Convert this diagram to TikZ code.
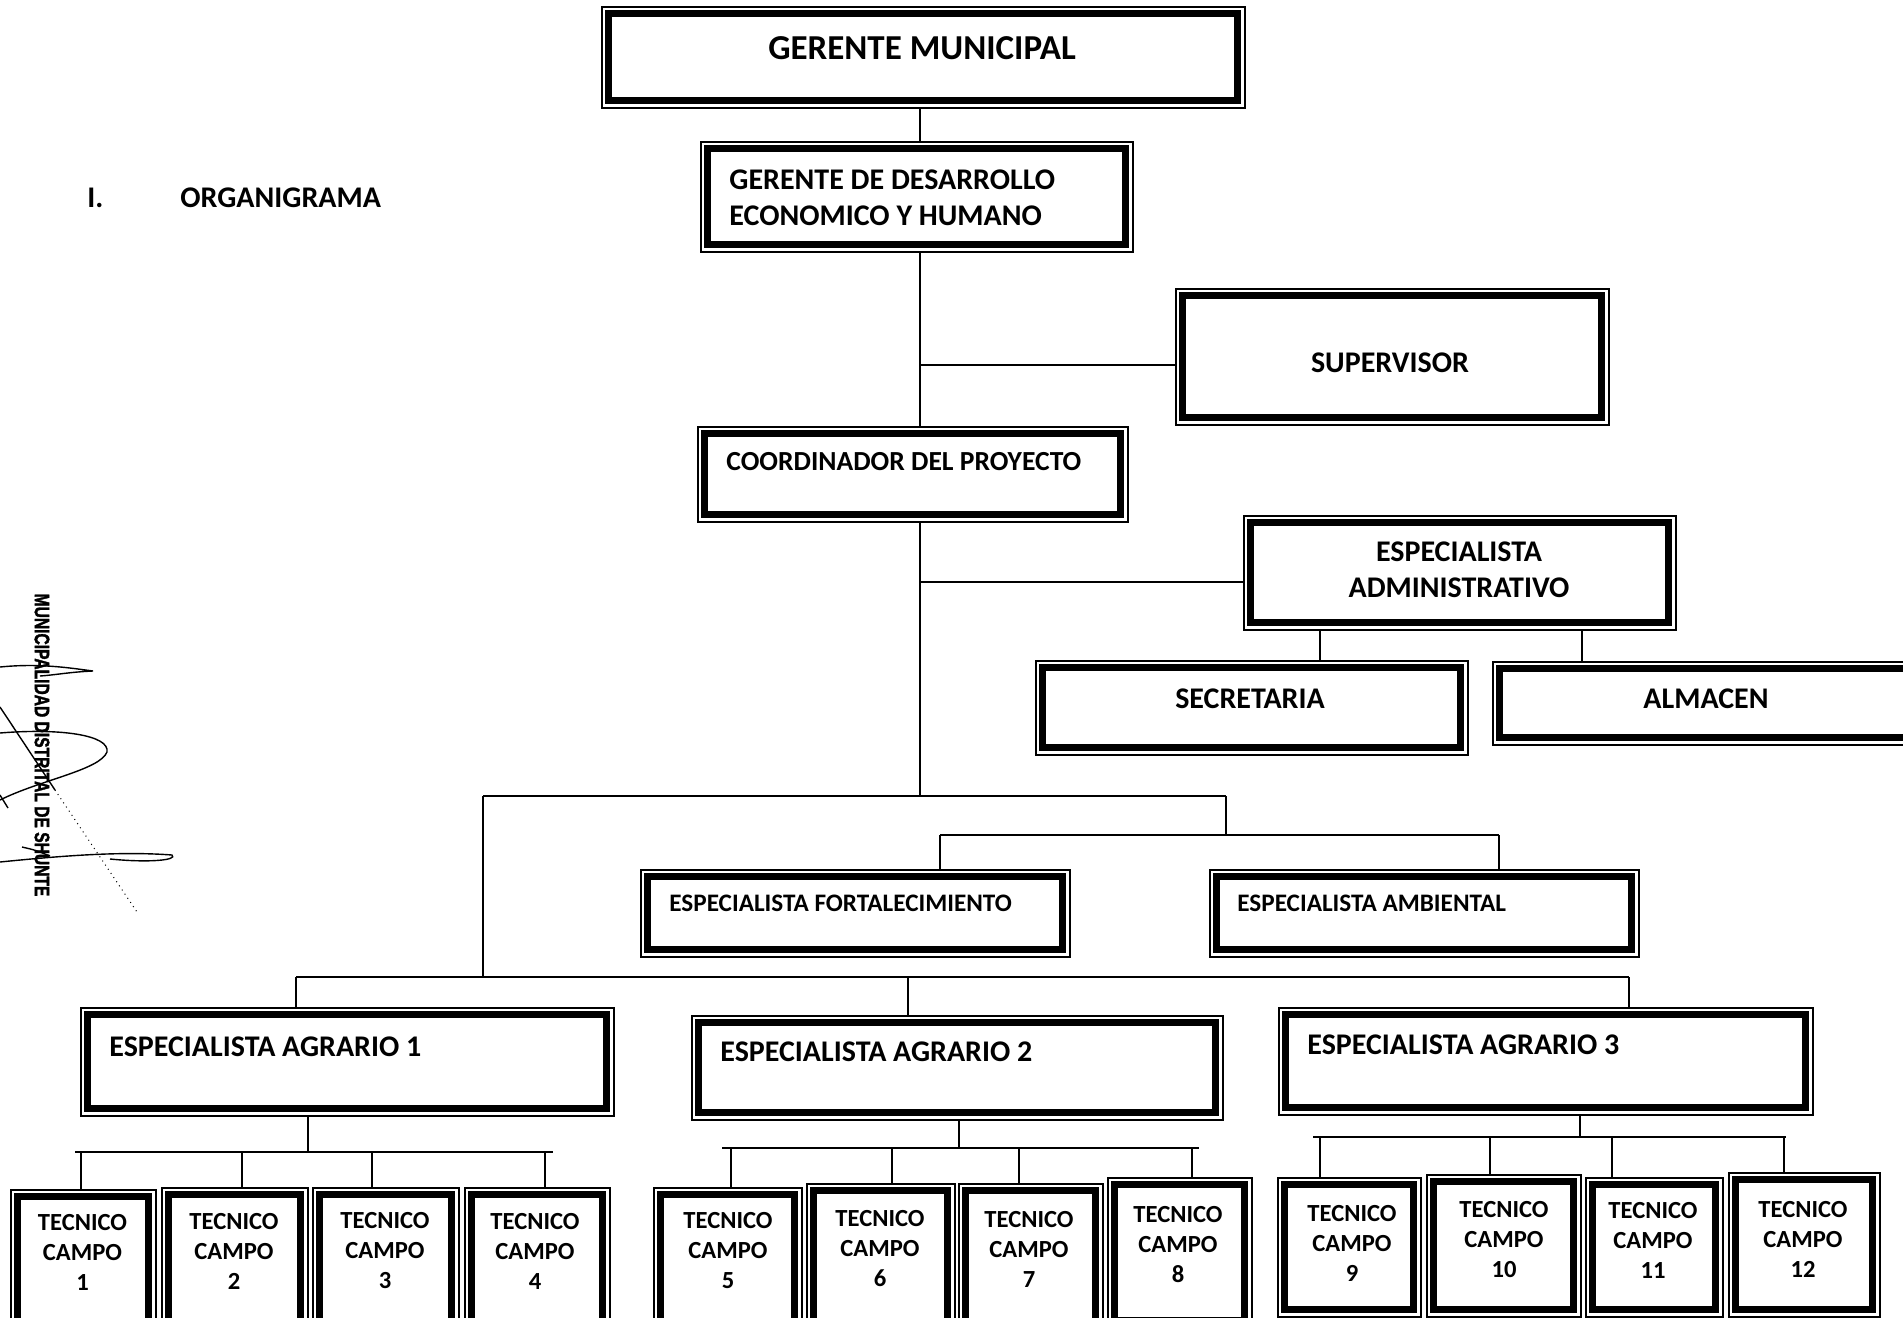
\documentclass[tikz,border=0pt]{standalone}
\usepackage{fontspec}
\usepackage{graphicx}
\setmainfont{Carlito}
\newfontfamily\stampfont{Liberation Sans}[BoldFeatures={FakeBold=2}]
\newcommand\obx[5]{\node[obox, minimum width=#4*0.5pt, minimum height=#5*0.5pt] (#1) at (#2,#3) {};}
\begin{document}
\begin{tikzpicture}[x=0.5pt,y=-0.5pt,
  obox/.style={draw=black, line width=0.75pt, rectangle, inner sep=0pt, anchor=north west,
    path picture={\draw[line width=3.5pt] ([xshift=3.6pt,yshift=3.6pt]path picture bounding box.south west) rectangle ([xshift=-3.6pt,yshift=-3.6pt]path picture bounding box.north east);}},
  conn/.style={line width=1pt},
  lbl/.style={font=\bfseries\fontsize{15}{18}\selectfont, inner sep=0pt},
  big/.style={font=\bfseries\fontsize{17.5}{20}\selectfont, inner sep=0pt},
  small/.style={font=\bfseries\fontsize{12.6}{15}\selectfont, inner sep=0pt},
  tlbl/.style={font=\bfseries\fontsize{12.3}{15}\selectfont, inner sep=0pt, align=center},
  sig/.style={line width=0.7pt}
]
\useasboundingbox (0,0) rectangle (1903,1318);
\clip (0,0) rectangle (1903,1318);
\fill[white] (0,0) rectangle (1903,1318);

% header
\node[lbl, anchor=west] (hnum) at (87,198) {I.};
\node[lbl, anchor=west] (htitle) at (180,198) {ORGANIGRAMA};

% boxes
\obx{gm}{601}{6}{643}{101}
\node[big] (gmt) at (922,48.5) {GERENTE MUNICIPAL};
\obx{gde}{700}{141}{432}{110}
\node[lbl, anchor=west, align=left] (gdet) at (729,198) {GERENTE DE DESARROLLO\\ECONOMICO Y HUMANO};
\obx{sup}{1175}{288}{433}{136}
\node[lbl] (supt) at (1390,363) {SUPERVISOR};
\obx{coord}{697}{426}{430}{95}
\node[lbl, anchor=west, font=\bfseries\fontsize{13.8}{16}\selectfont] (coordt) at (726,462) {COORDINADOR DEL PROYECTO};
\obx{adm}{1243}{515}{432}{114}
\node[lbl, align=center] (admt) at (1459,570) {ESPECIALISTA\\ADMINISTRATIVO};
\obx{sec}{1035}{660}{432}{94}
\node[lbl] (sect) at (1250,699) {SECRETARIA};
\obx{alm}{1492}{661}{440}{83}
\node[lbl] (almt) at (1706,699) {ALMACEN};
\obx{esf}{640}{869}{429}{87}
\node[small, anchor=west] (esft) at (669,903) {ESPECIALISTA FORTALECIMIENTO};
\obx{eam}{1209}{869}{429}{87}
\node[small, anchor=west] (eamt) at (1237,903) {ESPECIALISTA AMBIENTAL};
\obx{ag1}{80}{1007}{533}{108}
\node[lbl, anchor=west] (ag1t) at (109,1047) {ESPECIALISTA AGRARIO 1};
\obx{ag2}{691}{1015}{531}{104}
\node[lbl, anchor=west] (ag2t) at (720,1052) {ESPECIALISTA AGRARIO 2};
\obx{ag3}{1278}{1007}{534}{107}
\node[lbl, anchor=west] (ag3t) at (1307,1045) {ESPECIALISTA AGRARIO 3};

\foreach \num/\x/\y/\w/\h/\tx/\ty in {
  1/10/1189/145/150/82.5/1252,
  2/161/1187/146/150/234/1251,
  3/312/1187/146/150/385/1251,
  4/464/1187/145/150/535/1251,
  5/653/1187/148/150/728/1251,
  6/806/1183/148/150/880/1249,
  7/958/1183/144/150/1029/1249,
  8/1107/1177/144/150/1178/1245,
  9/1277/1177/143/139/1352/1243,
  10/1426/1174/154/142/1504/1240,
  11/1585/1177/137/139/1653/1240,
  12/1728/1172/151/144/1803/1239}{
  \obx{t\num}{\x}{\y}{\w}{\h}
  \node[tlbl] (tt\num) at (\tx,\ty) {TECNICO\\CAMPO\\\num};
}

% connectors
\coordinate (sp) at (920,0);
\draw[conn] (gm.south -| sp) -- (gde.north -| sp);
\draw[conn] (gde.south -| sp) -- (coord.north -| sp);
\coordinate (jsup) at (920,365);
\draw[conn] (jsup) -- (jsup -| sup.west);
\coordinate (j1) at (920,796);
\draw[conn] (coord.south -| sp) -- (j1);
\coordinate (jadm) at (920,582);
\draw[conn] (jadm) -- (jadm -| adm.west);
\coordinate (xs) at (1320,0);
\coordinate (xa) at (1582,0);
\draw[conn] (adm.south -| xs) -- (sec.north -| xs);
\draw[conn] (adm.south -| xa) -- (alm.north -| xa);

\coordinate (h1l) at (483,796);
\coordinate (h1r) at (1226,796);
\draw[conn] (h1l) -- (h1r);
\coordinate (h2m) at (1226,835);
\coordinate (h2l) at (940,835);
\coordinate (h2r) at (1499,835);
\draw[conn] (h1r) -- (h2m);
\draw[conn] (h2l) -- (h2r);
\draw[conn] (h2l) -- (esf.north -| h2l);
\draw[conn] (h2r) -- (eam.north -| h2r);
\coordinate (h3) at (483,977);
\coordinate (h3l) at (296,977);
\coordinate (h3m) at (908,977);
\coordinate (h3r) at (1629,977);
\draw[conn] (h1l) -- (h3);
\draw[conn] (h3l) -- (h3r);
\draw[conn] (h3l) -- (ag1.north -| h3l);
\draw[conn] (h3m) -- (ag2.north -| h3m);
\draw[conn] (h3r) -- (ag3.north -| h3r);

% row 1
\coordinate (r1) at (308,1152);
\coordinate (r1l) at (75,1152);
\coordinate (r1r) at (553,1152);
\draw[conn] (ag1.south -| r1) -- (r1);
\draw[conn] (r1l) -- (r1r);
\foreach \k/\xx in {1/81,2/242,3/372,4/545}{
  \coordinate (c\k) at (\xx,1152);
  \draw[conn] (c\k) -- (t\k.north -| c\k);
}
% row 2
\coordinate (r2) at (959,1148);
\coordinate (r2l) at (722,1148);
\coordinate (r2r) at (1199,1148);
\draw[conn] (ag2.south -| r2) -- (r2);
\draw[conn] (r2l) -- (r2r);
\foreach \k/\xx in {5/731,6/892,7/1019,8/1192}{
  \coordinate (c\k) at (\xx,1148);
  \draw[conn] (c\k) -- (t\k.north -| c\k);
}
% row 3
\coordinate (r3) at (1580,1137);
\coordinate (r3l) at (1313,1137);
\coordinate (r3r) at (1786,1137);
\draw[conn] (ag3.south -| r3) -- (r3);
\draw[conn] (r3l) -- (r3r);
\foreach \k/\xx in {9/1320,10/1490,11/1612,12/1784}{
  \coordinate (c\k) at (\xx,1137);
  \draw[conn] (c\k) -- (t\k.north -| c\k);
}

% stamp and signature
\node[rotate=-90, inner sep=0pt, font=\stampfont\bfseries\fontsize{10.4}{12}\selectfont] (stamp) at (42,745) {\scalebox{0.75}[1]{MUNICIPALIDAD DISTRITAL DE SHUNTE}};
\draw[sig] (0,667) .. controls (40,663) and (70,668) .. (93,671) .. controls (70,672) and (55,675) .. (40,676);
\draw[sig] (0,707) -- (55,790);
\draw[line width=0.5pt, dotted] (55,790) -- (137,912);
\draw[sig] (0,733) .. controls (60,728) and (110,735) .. (107,752) .. controls (100,770) and (40,780) .. (0,800);
\draw[sig] (0,795) -- (8,808);
\draw[sig] (0,862) .. controls (60,856) and (120,851) .. (172,855) .. controls (178,860) and (150,863) .. (110,859);
\draw[sig] (22,847) .. controls (35,850) .. (50,856);
\end{tikzpicture}
\end{document}
